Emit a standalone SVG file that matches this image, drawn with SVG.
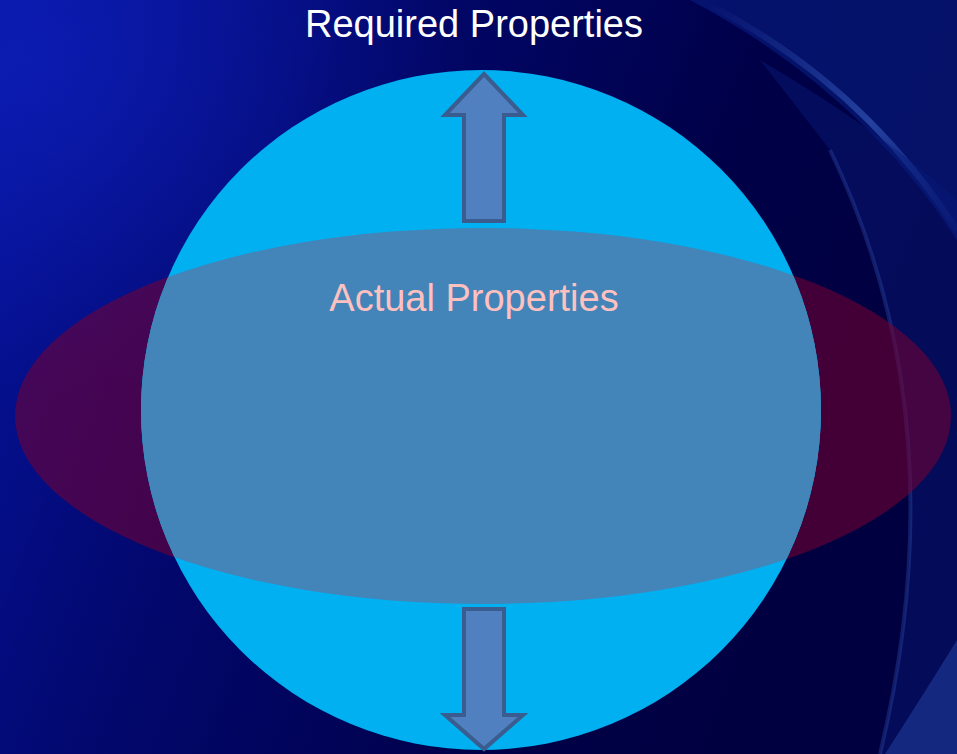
<svg xmlns="http://www.w3.org/2000/svg" width="957" height="754" viewBox="0 0 957 754">
<defs>
<linearGradient id="bg" x1="0" y1="0" x2="1" y2="0.3">
<stop offset="0" stop-color="#0614a0"/>
<stop offset="0.35" stop-color="#02086e"/>
<stop offset="0.75" stop-color="#000048"/>
<stop offset="1" stop-color="#000040"/>
</linearGradient>
<radialGradient id="glow" cx="0.03" cy="0.08" r="0.45">
<stop offset="0" stop-color="#1022c0" stop-opacity="0.6"/>
<stop offset="1" stop-color="#1022c0" stop-opacity="0"/>
</radialGradient>
<linearGradient id="arcg" x1="0" y1="0" x2="1" y2="1">
<stop offset="0" stop-color="#3a6ad0" stop-opacity="0"/>
<stop offset="0.6" stop-color="#4a7ae0" stop-opacity="0.45"/>
<stop offset="1" stop-color="#2a50b0" stop-opacity="0.15"/>
</linearGradient>
<clipPath id="circ"><circle cx="481" cy="410" r="340"/></clipPath>
<style>
.lbl{font-family:"Liberation Sans","DejaVu Sans",sans-serif;font-size:38px;text-anchor:middle}
.arrow{fill:#5080c0;stroke:#3b5c8e;stroke-width:4;stroke-linejoin:miter}
</style>
</defs>
<g id="background">
<rect width="957" height="754" fill="url(#bg)"/>
<rect width="957" height="754" fill="url(#glow)"/>
<path d="M690,0 Q860,90 957,240 L957,0 Z" fill="#0a2088" opacity="0.55"/>
<path d="M700,0 Q860,80 957,230" fill="none" stroke="url(#arcg)" stroke-width="6"/>
<path d="M760,60 Q880,130 957,200 L957,754 L880,754 Q960,420 830,150 Z" fill="#081a7a" opacity="0.45"/>
<path d="M830,150 Q960,420 880,754" fill="none" stroke="#3a5cc0" stroke-width="4" opacity="0.3"/>
<path d="M957,640 Q920,700 885,754 L957,754 Z" fill="#2a4cb0" opacity="0.45"/>
</g>
<g id="node-ellipse">
<ellipse cx="483" cy="416" rx="468" ry="188" fill="#7a0030" opacity="0.55"/>
</g>
<g id="node-circle">
<circle cx="481" cy="410" r="340" fill="#00b0f0"/>
<ellipse cx="483" cy="416" rx="468" ry="188" fill="#4385b8" clip-path="url(#circ)"/>
</g>
<g id="connectors">
<path class="arrow" d="M484,74 L523,115 L504,115 L504,221 L464,221 L464,115 L445,115 Z"/>
<path class="arrow" d="M464,609 L504,609 L504,715 L523,715 L484,749 L445,715 L464,715 Z"/>
</g>
<g id="label-required"><text class="lbl" x="474" y="37" fill="#ffffff">Required Properties</text></g>
<g id="label-actual"><text class="lbl" x="474" y="311" fill="#ffc0c0">Actual Properties</text></g>
</svg>
